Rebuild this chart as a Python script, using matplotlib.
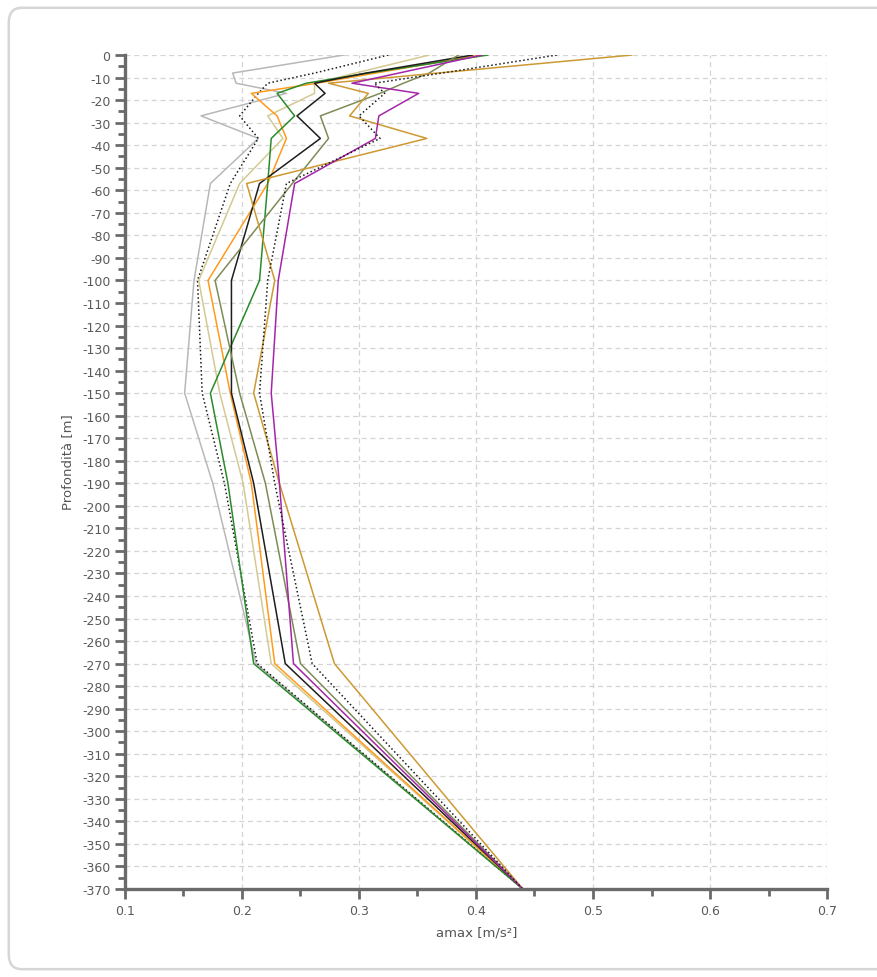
import numpy as np
import matplotlib
matplotlib.use("Agg")
import matplotlib.pyplot as plt
from matplotlib.patches import FancyBboxPatch
from matplotlib.ticker import MultipleLocator

plt.rcParams['font.family'] = ['DejaVu Sans']
plt.rcParams['axes.unicode_minus'] = False

# profondita dei nodi (m)
depth = [0, -8, -12.5, -17, -27, -37, -57, -100, -150, -190, -270, -370]

# amax [m/s2] per ogni curva
grigio = [0.287, 0.192, 0.195, 0.238, 0.165, 0.214, 0.173, 0.159, 0.151, 0.175, 0.212, 0.44]
punt_sx = [0.325, 0.262, 0.222, 0.214, 0.198, 0.214, 0.190, 0.162, 0.166, 0.185, 0.213, 0.44]
kaki = [0.360, 0.297, 0.262, 0.262, 0.222, 0.235, 0.198, 0.163, 0.181, 0.201, 0.225, 0.44]
arancio = [0.403, 0.314, 0.264, 0.208, 0.230, 0.238, 0.222, 0.171, 0.190, 0.208, 0.228, 0.44]
verde = [0.410, 0.308, 0.255, 0.230, 0.245, 0.225, 0.222, 0.215, 0.173, 0.188, 0.210, 0.44]
nero = [0.397, 0.306, 0.262, 0.271, 0.247, 0.267, 0.215, 0.191, 0.191, 0.210, 0.237, 0.44]
oliva = [0.385, 0.360, 0.338, 0.318, 0.267, 0.274, 0.243, 0.177, 0.198, 0.220, 0.250, 0.44]
oro = [0.533, 0.367, 0.274, 0.308, 0.292, 0.358, 0.204, 0.228, 0.210, 0.232, 0.279, 0.44]
viola = [0.405, 0.334, 0.294, 0.351, 0.317, 0.314, 0.245, 0.231, 0.225, 0.232, 0.244, 0.44]
punt_dx = [0.469, 0.371, 0.313, 0.322, 0.300, 0.318, 0.238, 0.222, 0.215, 0.228, 0.260, 0.44]

curve = [
    (grigio, '#b8b8b8', '-'),
    (punt_sx, '#1a1a1a', ':'),
    (kaki, '#d3ca92', '-'),
    (arancio, '#ff9a1c', '-'),
    (verde, '#2b8a2b', '-'),
    (nero, '#1e1e1e', '-'),
    (oliva, '#7d8c56', '-'),
    (oro, '#cc9933', '-'),
    (viola, '#a426a8', '-'),
    (punt_dx, '#1a1a1a', ':'),
]

fig = plt.figure(figsize=(8.77, 9.78), dpi=100)

# cornice arrotondata
bordo = FancyBboxPatch((0.010, 0.008), 1.2, 0.983, boxstyle="round,pad=0,rounding_size=0.015",
                       transform=fig.transFigure, fc='white', ec='#d6d6d6', lw=1.8, zorder=-10)
fig.patches.append(bordo)

ax = fig.add_axes([0.1425, 0.0900, 0.8005, 0.8527])
ax.patch.set_alpha(0)
for valori, colore, stile in curve:
    ax.plot(valori, depth, color=colore, ls=stile, lw=1.1)

ax.set_xlim(0.1, 0.7)
ax.set_ylim(-370, 0)
ax.xaxis.set_minor_locator(MultipleLocator(0.05))
ax.yaxis.set_minor_locator(MultipleLocator(5))
ax.set_xticks(np.arange(0.1, 0.71, 0.1))
ax.set_xticklabels(['%.1f' % v for v in np.arange(0.1, 0.71, 0.1)])
ax.set_yticks(np.arange(-370, 1, 10))
ax.set_yticklabels(['%d' % v for v in np.arange(-370, 1, 10)])

ax.grid(True, which='major', color='#d4d4d4', ls=(0, (4, 3)), lw=0.9)
ax.set_axisbelow(True)
for s in ['top', 'right']:
    ax.spines[s].set_visible(False)
for s in ['left', 'bottom']:
    ax.spines[s].set_color('#6a6a6a')
    ax.spines[s].set_linewidth(2.4)
ax.tick_params(which='major', length=7, width=2, color='#6a6a6a', labelsize=9, labelcolor='#5a5a5a')
ax.tick_params(which='minor', length=5, width=2, color='#6a6a6a')

fig.text(0.0775, 0.527, 'Profondità [m]', rotation=90, ha='center', va='center', fontsize=9.5, color='#555555')
fig.text(0.543, 0.046, 'amax [m/s²]', ha='center', va='center', fontsize=9.5, color='#555555')

fig.savefig('out.png', dpi=100)
